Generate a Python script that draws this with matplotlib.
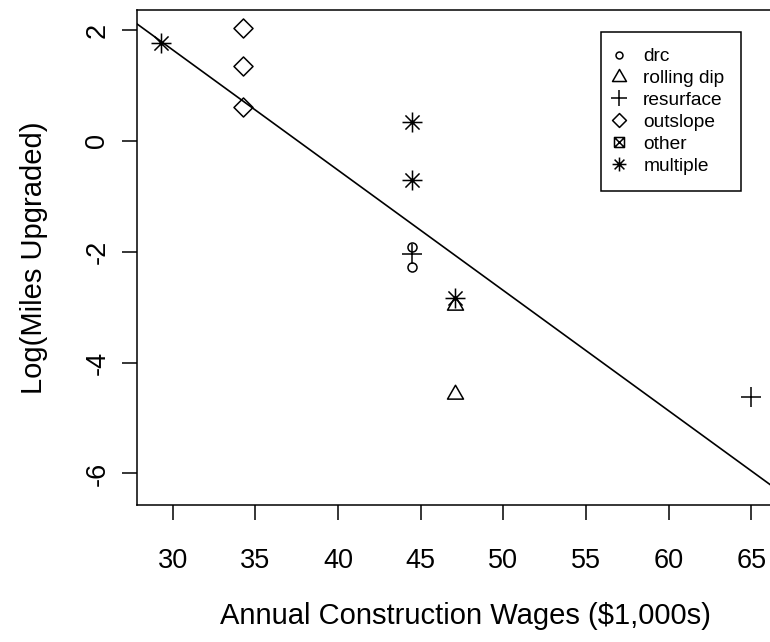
import numpy as np
import matplotlib
matplotlib.use("Agg")
import matplotlib.pyplot as plt
from matplotlib.path import Path
from matplotlib.lines import Line2D

plt.rcParams['font.family'] = ['Liberation Sans', 'DejaVu Sans']

# data
drc_x = [44.45, 44.45]
drc_y = [-1.92, -2.27]
dip_x = [47.05, 47.05]
dip_y = [-2.97, -4.56]
resurf_x = [44.45, 64.96]
resurf_y = [-2.05, -4.63]
outslope_x = [34.27, 34.27, 34.27]
outslope_y = [2.04, 1.35, 0.61]
other_x = []
other_y = []
multi_x = [29.27, 44.45, 44.45, 47.05]
multi_y = [1.77, 0.34, -0.70, -2.83]

fit_intercept = 8.15
fit_slope = -0.217

legend_labels = ['drc', 'rolling dip', 'resurface', 'outslope', 'other', 'multiple']
xticks = [30, 35, 40, 45, 50, 55, 60, 65]
yticks = [-6, -4, -2, 0, 2]

# R-like pch markers
diamond = Path([(0, 1), (1, 0), (0, -1), (-1, 0), (0, 1)],
               [Path.MOVETO, Path.LINETO, Path.LINETO, Path.LINETO, Path.CLOSEPOLY])
triangle = Path([(0, 1), (-0.866, -0.5), (0.866, -0.5), (0, 1)],
                [Path.MOVETO, Path.LINETO, Path.LINETO, Path.CLOSEPOLY])
d = 0.7071
star = Path([(-1, 0), (1, 0), (0, -1), (0, 1), (-d, -d), (d, d), (-d, d), (d, -d)],
            [Path.MOVETO, Path.LINETO] * 4)
boxx = Path([(-1, -1), (1, -1), (1, 1), (-1, 1), (-1, -1), (-1, -1), (1, 1), (-1, 1), (1, -1)],
            [Path.MOVETO, Path.LINETO, Path.LINETO, Path.LINETO, Path.LINETO,
             Path.MOVETO, Path.LINETO, Path.MOVETO, Path.LINETO])

fig = plt.figure(figsize=(7.7, 6.42), dpi=100)
ax = fig.add_axes([136.7 / 770, 137 / 642, (793.3 - 136.7) / 770, 495 / 642])

mew = 1.1
kw = dict(linestyle='none', color='black', markerfacecolor='none', markeredgewidth=mew)
ax.plot(drc_x, drc_y, marker='o', markersize=6.5, **kw)
ax.plot(dip_x, dip_y, marker=triangle, markersize=13.3, **kw)
ax.plot(resurf_x, resurf_y, marker='+', markersize=15, **kw)
ax.plot(outslope_x, outslope_y, marker=diamond, markersize=13.7, **kw)
ax.plot(other_x, other_y, marker=boxx, markersize=10, **kw)
ax.plot(multi_x, multi_y, marker=star, markersize=14.4, **kw)

ax.axline((0, fit_intercept), slope=fit_slope, color='black', linewidth=1.2)

ax.set_xlim(27.82, 67.54)
ax.set_ylim(-6.57, 2.36)
ax.set_xticks(xticks)
ax.set_yticks(yticks)
ax.set_yticklabels([str(v) for v in yticks], rotation=90, va='center')
ax.tick_params(axis='both', length=11, width=1.1, labelsize=19.5, color='black')
ax.tick_params(axis='x', pad=20)
ax.tick_params(axis='y', pad=8)
for s in ax.spines.values():
    s.set_linewidth(1.1)

ax.set_xlabel('Annual Construction Wages ($1,000s)', fontsize=21, labelpad=20)
ax.set_ylabel('Log(Miles Upgraded)', fontsize=21, labelpad=26)

handles = [
    Line2D([], [], marker='o', markersize=5, **kw),
    Line2D([], [], marker=triangle, markersize=11.6, **kw),
    Line2D([], [], marker='+', markersize=11.5, **kw),
    Line2D([], [], marker=diamond, markersize=10, **kw),
    Line2D([], [], marker=boxx, markersize=7.2, **kw),
    Line2D([], [], marker=star, markersize=10, **kw),
]
leg = fig.legend(handles, legend_labels, loc='upper left',
                 bbox_to_anchor=(600.7 / 770, 1 - 31.7 / 642),
                 fontsize=13.8, frameon=True, fancybox=False, framealpha=1,
                 edgecolor='black', borderpad=0.85, handlelength=0.2,
                 handletextpad=1.17, labelspacing=0.23, borderaxespad=0)
leg.get_frame().set_linewidth(1.1)

fig.savefig('out.png', dpi=100)
